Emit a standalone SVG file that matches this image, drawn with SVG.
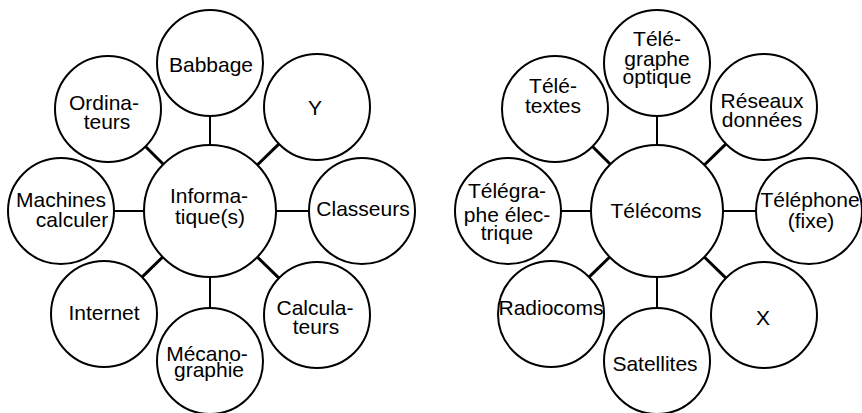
<svg xmlns="http://www.w3.org/2000/svg" width="862" height="413" viewBox="0 0 862 413">
<style>
.n{fill:#fff;stroke:#000;stroke-width:2}
.t{font-family:"Liberation Sans",Arial,sans-serif;font-size:21px;fill:#000;text-anchor:middle}
.c line{stroke:#000;stroke-width:2}
.c line.d{stroke-width:3}
</style>
<rect width="862" height="413" fill="#fff"/>
<g id="connectors" class="c">
<line x1="210" y1="145" x2="210" y2="116"/>
<line class="d" x1="163.3" y1="164.3" x2="145.5" y2="146.5"/>
<line class="d" x1="257.3" y1="165" x2="279" y2="143.9"/>
<line x1="144" y1="211" x2="114" y2="211"/>
<line x1="276" y1="211" x2="309" y2="211"/>
<line class="d" x1="162.7" y1="257" x2="142" y2="277.1"/>
<line x1="210" y1="277" x2="210" y2="308"/>
<line class="d" x1="257.3" y1="257" x2="279" y2="278.1"/>
<line x1="657" y1="145" x2="657" y2="116"/>
<line class="d" x1="610.3" y1="164.3" x2="592.5" y2="146.5"/>
<line class="d" x1="704.3" y1="165" x2="726" y2="143.9"/>
<line x1="591" y1="211" x2="561" y2="211"/>
<line x1="723" y1="211" x2="756" y2="211"/>
<line class="d" x1="609.7" y1="257" x2="589" y2="277.1"/>
<line x1="657" y1="277" x2="657" y2="308"/>
<line class="d" x1="704.3" y1="257" x2="726" y2="278.1"/>
</g>
<g id="informatique"><circle class="n" cx="210" cy="211" r="66"/><text class="t" x="209" y="203">Informa-</text><text class="t" x="210" y="224">tique(s)</text></g>
<g id="babbage"><circle class="n" cx="210" cy="63" r="53"/><text class="t" x="211" y="72">Babbage</text></g>
<g id="ordinateurs"><circle class="n" cx="108" cy="109" r="53"/><text class="t" x="104" y="110">Ordina-</text><text class="t" x="107" y="129">teurs</text></g>
<g id="y"><circle class="n" cx="317" cy="107" r="53"/><text class="t" x="315" y="115">Y</text></g>
<g id="machines"><circle class="n" cx="61" cy="211" r="53"/><text class="t" x="61" y="207">Machines</text><text class="t" x="72" y="227">calculer</text></g>
<g id="classeurs"><circle class="n" cx="362" cy="211" r="53"/><text class="t" x="363" y="216">Classeurs</text></g>
<g id="internet"><circle class="n" cx="104" cy="314" r="53"/><text class="t" x="104" y="320">Internet</text></g>
<g id="mecanographie"><circle class="n" cx="210" cy="361" r="53"/><text class="t" x="207" y="361">Mécano-</text><text class="t" x="209" y="377">graphie</text></g>
<g id="calculateurs"><circle class="n" cx="317" cy="315" r="53"/><text class="t" x="315" y="315">Calcula-</text><text class="t" x="316" y="334">teurs</text></g>
<g id="telecoms"><circle class="n" cx="657" cy="211" r="66"/><text class="t" x="656" y="218">Télécoms</text></g>
<g id="telegraphe-optique"><circle class="n" cx="657" cy="63" r="53"/><text class="t" x="657" y="46">Télé-</text><text class="t" x="657" y="66">graphe</text><text class="t" x="657" y="84">optique</text></g>
<g id="teletextes"><circle class="n" cx="555" cy="109" r="53"/><text class="t" x="553" y="93">Télé-</text><text class="t" x="553" y="113">textes</text></g>
<g id="reseaux"><circle class="n" cx="764" cy="107" r="53"/><text class="t" x="762" y="108">Réseaux</text><text class="t" x="762" y="127">données</text></g>
<g id="telegraphe-electrique"><circle class="n" cx="508" cy="211" r="53"/><text class="t" x="507" y="198">Télégra-</text><text class="t" x="507" y="222">phe élec-</text><text class="t" x="507" y="240">trique</text></g>
<g id="telephone"><circle class="n" cx="809" cy="211" r="53"/><text class="t" x="810" y="207">Téléphone</text><text class="t" x="811" y="228">(fixe)</text></g>
<g id="radiocoms"><circle class="n" cx="551" cy="314" r="53"/><text class="t" x="551" y="315">Radiocoms</text></g>
<g id="satellites"><circle class="n" cx="657" cy="361" r="53"/><text class="t" x="655" y="371">Satellites</text></g>
<g id="x"><circle class="n" cx="764" cy="315" r="53"/><text class="t" x="763" y="325">X</text></g>
</svg>
